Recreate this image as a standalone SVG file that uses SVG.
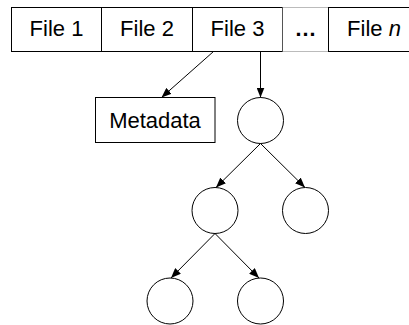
<svg xmlns="http://www.w3.org/2000/svg" width="409" height="325" viewBox="0 0 409 325">
<defs>
<style>
.box{fill:#fff;stroke:#000;stroke-width:1}
.t{font-family:"Liberation Sans",Arial,sans-serif;font-size:22px;fill:#000;text-anchor:middle}
.c{fill:#fff;stroke:#000;stroke-width:1}
.e{stroke:#000;stroke-width:1;fill:none;marker-end:url(#ah)}
</style>
<marker id="ah" viewBox="0 0 10 8" refX="10" refY="4" markerWidth="10" markerHeight="8" markerUnits="userSpaceOnUse" orient="auto">
<path d="M0,0 L10,4 L0,8 z" fill="#000"/>
</marker>
</defs>
<rect width="409" height="325" fill="#fff"/>
<g id="file1"><rect class="box" x="11.5" y="7.5" width="90" height="44"/><text class="t" x="56.5" y="36">File 1</text></g>
<g id="file2"><rect class="box" x="101.5" y="7.5" width="91" height="44"/><text class="t" x="147" y="36">File 2</text></g>
<g id="file3"><rect class="box" x="192.5" y="7.5" width="90" height="44"/><text class="t" x="237.5" y="36">File 3</text></g>
<g id="ellipsis">
<line x1="282.5" y1="7.5" x2="282.5" y2="51.5" stroke="#555" stroke-width="1"/>
<line x1="282.5" y1="7.5" x2="328.5" y2="7.5" stroke="#777" stroke-width="1" stroke-dasharray="1,1"/>
<line x1="282.5" y1="51.5" x2="328.5" y2="51.5" stroke="#777" stroke-width="1" stroke-dasharray="1,1"/>
<text class="t" x="305.5" y="36" font-weight="bold">…</text>
</g>
<g id="filen"><rect class="box" x="328.5" y="7.5" width="91" height="44"/><text class="t" x="374" y="36">File <tspan font-style="italic">n</tspan></text></g>
<g id="metadata"><rect class="box" x="95.5" y="97.5" width="119.5" height="45"/><text class="t" x="155" y="128">Metadata</text></g>
<g id="n1"><circle class="c" cx="260.5" cy="120.5" r="23"/></g>
<g id="n2"><circle class="c" cx="215" cy="210.5" r="23"/></g>
<g id="n3"><circle class="c" cx="305.5" cy="210.5" r="23"/></g>
<g id="n4"><circle class="c" cx="170" cy="301" r="23"/></g>
<g id="n5"><circle class="c" cx="260.5" cy="301" r="23"/></g>
<g id="connectors">
<line class="e" x1="213.5" y1="51.5" x2="161.5" y2="97.5"/>
<line class="e" x1="260.5" y1="51.5" x2="260.5" y2="97.5"/>
<line class="e" x1="260.5" y1="143.5" x2="216" y2="187.5"/>
<line class="e" x1="260.5" y1="143.5" x2="305" y2="187.5"/>
<line class="e" x1="215" y1="233.5" x2="171" y2="278"/>
<line class="e" x1="215" y1="233.5" x2="259" y2="278"/>
</g>
</svg>
